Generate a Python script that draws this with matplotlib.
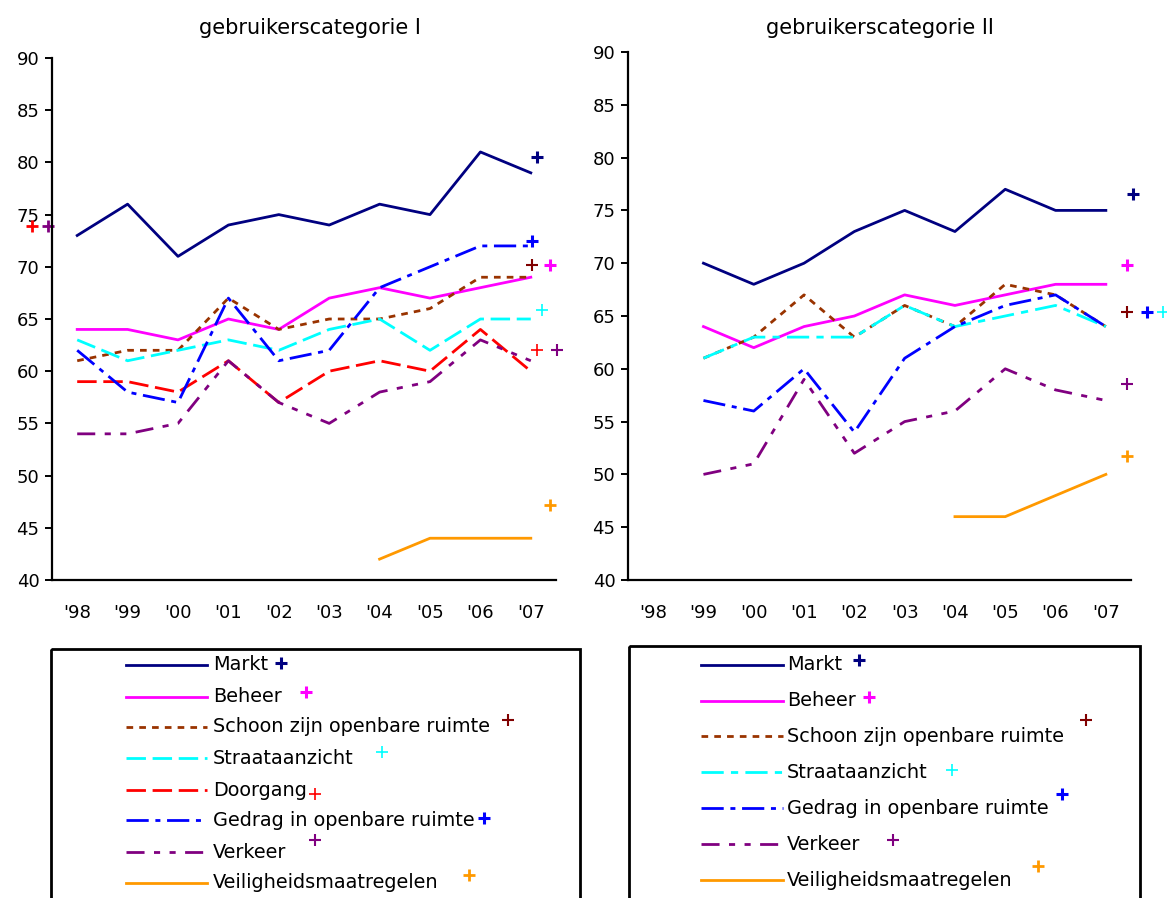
import numpy as np
import matplotlib
matplotlib.use('Agg')
import matplotlib.pyplot as plt
from matplotlib.patches import Rectangle

years = ["'98", "'99", "'00", "'01", "'02", "'03", "'04", "'05", "'06", "'07"]
nan = np.nan

# gebruikerscategorie I
markt_1 = [73, 76, 71, 74, 75, 74, 76, 75, 81, 79]
beheer_1 = [64, 64, 63, 65, 64, 67, 68, 67, 68, 69]
schoon_1 = [61, 62, 62, 67, 64, 65, 65, 66, 69, 69]
straat_1 = [63, 61, 62, 63, 62, 64, 65, 62, 65, 65]
doorgang_1 = [59, 59, 58, 61, 57, 60, 61, 60, 64, 60]
gedrag_1 = [62, 58, 57, 67, 61, 62, 68, 70, 72, 72]
verkeer_1 = [54, 54, 55, 61, 57, 55, 58, 59, 63, 61]
veilig_1 = [nan, nan, nan, nan, nan, nan, 42, 44, 44, 44]

# gebruikerscategorie II
markt_2 = [nan, 70, 68, 70, 73, 75, 73, 77, 75, 75]
beheer_2 = [nan, 64, 62, 64, 65, 67, 66, 67, 68, 68]
schoon_2 = [nan, 61, 63, 67, 63, 66, 64, 68, 67, 64]
straat_2 = [nan, 61, 63, 63, 63, 66, 64, 65, 66, 64]
gedrag_2 = [nan, 57, 56, 60, 54, 61, 64, 66, 67, 64]
verkeer_2 = [nan, 50, 51, 59, 52, 55, 56, 60, 58, 57]
veilig_2 = [nan, nan, nan, nan, nan, nan, 46, 46, 48, 50]

# target (+) values
doel_1 = {'Markt': 80.5, 'Beheer': 70.2, 'Schoon': 70.2, 'Straat': 65.9,
          'Doorgang': 62.0, 'Gedrag': 72.5, 'Verkeer': 62.0, 'Veilig': 47.2}
doel_1_extra = 73.9
doel_2 = {'Markt': 76.6, 'Beheer': 69.8, 'Schoon': 65.4, 'Straat': 65.4,
          'Gedrag': 65.4, 'Verkeer': 58.6, 'Veilig': 51.7}

NAVY = '#000080'
MAG = '#FF00FF'
BROWN = '#993300'
DRED = '#800000'
CYAN = '#00FFFF'
RED = '#FF0000'
BLUE = '#0000FF'
PURP = '#800080'
ORANGE = '#FF9900'

styles = {
    'Markt': dict(color=NAVY, ls='-'),
    'Beheer': dict(color=MAG, ls='-'),
    'Schoon': dict(color=BROWN, ls=(0, (2.4, 2.2))),
    'Straat': dict(color=CYAN, ls=(0, (7, 2.4))),
    'Straat2': dict(color=CYAN, ls=(0, (8, 2.6, 2.6, 2.6))),
    'Doorgang': dict(color=RED, ls=(0, (7, 2.4))),
    'Gedrag': dict(color=BLUE, ls=(0, (8, 2.4, 1.8, 2.4))),
    'Verkeer': dict(color=PURP, ls=(0, (6.5, 3.4, 2.2, 3.4, 2.2, 3.4))),
    'Veilig': dict(color=ORANGE, ls='-'),
}
plus_col = {'Markt': NAVY, 'Beheer': MAG, 'Schoon': DRED, 'Straat': CYAN,
            'Doorgang': RED, 'Gedrag': BLUE, 'Verkeer': PURP, 'Veilig': ORANGE}
plus_w = {'Markt': 2.2, 'Beheer': 2.2, 'Schoon': 1.5, 'Straat': 1.2,
          'Doorgang': 1.2, 'Gedrag': 2.2, 'Verkeer': 1.5, 'Veilig': 2.0}

fig = plt.figure(figsize=(11.67, 8.98), dpi=100)
ax1 = fig.add_axes([52 / 1167, 1 - 580 / 898, 504 / 1167, 522 / 898])
ax2 = fig.add_axes([628 / 1167, 1 - 580 / 898, 503 / 1167, 528 / 898])

x = np.arange(len(years))


def style_axis(ax):
    ax.set_xlim(-0.5, 9.5)
    ax.set_ylim(40, 90)
    ax.set_yticks(range(40, 91, 5))
    ax.set_xticks(x)
    ax.set_xticklabels(years)
    ax.spines['top'].set_visible(False)
    ax.spines['right'].set_visible(False)
    ax.spines['left'].set_linewidth(1.6)
    ax.spines['bottom'].set_linewidth(1.6)
    ax.tick_params(axis='y', direction='out', length=5, width=1.4, labelsize=13, pad=4)
    ax.tick_params(axis='x', length=0, labelsize=13, pad=17)


series_1 = [('Markt', markt_1), ('Beheer', beheer_1), ('Schoon', schoon_1),
            ('Straat', straat_1), ('Doorgang', doorgang_1), ('Gedrag', gedrag_1),
            ('Verkeer', verkeer_1), ('Veilig', veilig_1)]
for key, vals in series_1:
    ax1.plot(x, vals, lw=2, **styles[key])

series_2 = [('Markt', markt_2), ('Beheer', beheer_2), ('Schoon', schoon_2),
            ('Straat2', straat_2), ('Gedrag', gedrag_2), ('Verkeer', verkeer_2),
            ('Veilig', veilig_2)]
for key, vals in series_2:
    ax2.plot(x, vals, lw=2, **styles[key])

# target markers, shifted right of the last year
xoff_1 = {'Markt': 9.12, 'Beheer': 9.38, 'Schoon': 9.02, 'Straat': 9.22,
          'Doorgang': 9.12, 'Gedrag': 9.02, 'Verkeer': 9.52, 'Veilig': 9.38}
for key, val in doel_1.items():
    ax1.plot(xoff_1[key], val, marker='+', ms=8, mew=plus_w[key],
             color=plus_col[key], clip_on=False, ls='none')
ax1.plot(-0.89, doel_1_extra, marker='+', ms=8, mew=2, color=RED, clip_on=False)
ax1.plot(-0.58, doel_1_extra, marker='+', ms=8, mew=2, color=PURP, clip_on=False)

xoff_2 = {'Markt': 9.54, 'Beheer': 9.42, 'Schoon': 9.42, 'Straat': 10.14,
          'Gedrag': 9.82, 'Verkeer': 9.42, 'Veilig': 9.42}
for key, val in doel_2.items():
    ax2.plot(xoff_2[key], val, marker='+', ms=8, mew=plus_w[key],
             color=plus_col[key], clip_on=False, ls='none')

style_axis(ax1)
style_axis(ax2)

fig.text(310 / 1167, 1 - 28 / 898, 'gebruikerscategorie I', fontsize=15,
         ha='center', va='center')
fig.text(880 / 1167, 1 - 28 / 898, 'gebruikerscategorie II', fontsize=15,
         ha='center', va='center')

# legend boxes drawn in pixel coordinates
lg = fig.add_axes([0, 0, 1, 1])
lg.set_xlim(0, 1167)
lg.set_ylim(898, 0)
lg.axis('off')

lg.add_patch(Rectangle((51, 649), 529, 270, fill=False, lw=2, ec='black'))
lg.add_patch(Rectangle((629, 646), 511, 270, fill=False, lw=2, ec='black'))

labels_1 = [('Markt', 'Markt', 665, (281, 663)),
            ('Beheer', 'Beheer', 697, (306, 692)),
            ('Schoon', 'Schoon zijn openbare ruimte', 727, (508, 720)),
            ('Straat', 'Straataanzicht', 758, (382, 752)),
            ('Doorgang', 'Doorgang', 790, (315, 794)),
            ('Gedrag', 'Gedrag in openbare ruimte', 820, (484, 818)),
            ('Verkeer', 'Verkeer', 852, (315, 840)),
            ('Veilig', 'Veiligheidsmaatregelen', 883, (469, 875))]
for key, text, yy, (px, py) in labels_1:
    lg.plot([126, 207], [yy, yy], lw=2, **styles[key])
    lg.text(213, yy, text, fontsize=13.9, va='center', ha='left')
    lg.plot(px, py, marker='+', ms=8, mew=plus_w[key], color=plus_col[key])

labels_2 = [('Markt', 'Markt', 665, (859, 660)),
            ('Beheer', 'Beheer', 701, (869, 697)),
            ('Schoon', 'Schoon zijn openbare ruimte', 736, (1086, 720)),
            ('Straat2', 'Straataanzicht', 772, (952, 770)),
            ('Gedrag', 'Gedrag in openbare ruimte', 808, (1062, 794)),
            ('Verkeer', 'Verkeer', 844, (893, 840)),
            ('Veilig', 'Veiligheidsmaatregelen', 880, (1038, 866))]
for key, text, yy, (px, py) in labels_2:
    pkey = 'Straat' if key == 'Straat2' else key
    lg.plot([701, 783], [yy, yy], lw=2, **styles[key])
    lg.text(787, yy, text, fontsize=13.9, va='center', ha='left')
    lg.plot(px, py, marker='+', ms=8, mew=plus_w[pkey], color=plus_col[pkey])

fig.savefig('out.png', dpi=100)
